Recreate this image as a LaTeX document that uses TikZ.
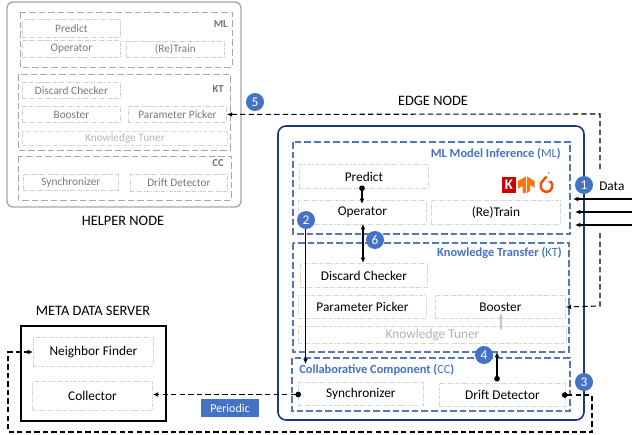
\documentclass[tikz,border=0pt]{standalone}
\usepackage{fontspec}
\setmainfont{Carlito}
\usetikzlibrary{arrows.meta,calc}
\definecolor{cblue}{HTML}{4472C4}
\definecolor{dashblue}{HTML}{5577B5}
\definecolor{edgeblue}{HTML}{1B3A7A}
\definecolor{hgray}{HTML}{A6A6A6}
\tikzset{
  px/.style={x=0.75pt,y=-0.75pt},
  zone/.style={draw=#1,line width=0.85pt,dash pattern=on 5pt off 2.2pt},
  hzone/.style={draw=hgray,line width=0.7pt,dash pattern=on 5pt off 2.2pt},
  inner/.style={draw=#1,line width=0.65pt,dash pattern=on 3pt off 1pt on 0.8pt off 1pt,inner sep=0pt},
  badge/.style={circle,fill=cblue,text=white,minimum size=13.5pt,inner sep=0pt,font=\fontsize{10}{10}\selectfont},
  mainbox/.style={inner=black!17,text=black,font=\fontsize{10}{12}\selectfont},
  helpbox/.style={inner=black!20,text=black!52,font=\fontsize{8.5}{10}\selectfont},
  ttl/.style={font=\fontsize{10.8}{12}\selectfont,inner sep=0pt},
  zlabel/.style={text=cblue,font=\fontsize{9.3}{10}\selectfont,inner sep=0pt},
  hlabel/.style={text=black!55,font=\fontsize{8}{10}\selectfont\bfseries,inner sep=0pt},
  solidarrow/.style={draw=black,line width=0.85pt,-{Latex[length=4pt,width=3.6pt]}},
  bothways/.style={draw=#1,line width=0.85pt,{Latex[length=4pt,width=3.6pt]}-{Latex[length=4pt,width=3.6pt]}},
  dotarrow/.style={draw=black,line width=0.85pt,{Circle[length=4.2pt]}-{Latex[length=4pt,width=3.6pt]}},
  dasharrow/.style={draw=black,line width=0.8pt,dash pattern=on 4pt off 2.4pt,-{Latex[length=4pt,width=3.6pt]}},
  dotdasharrow/.style={draw=black,line width=0.8pt,dash pattern=on 4pt off 2.4pt,{Circle[length=4.2pt]}-{Latex[length=4pt,width=3.6pt]}},
}
% box with corners given in reference pixels: name, x1, y1, x2, y2, style, text
\newcommand{\pxbox}[7]{%
  \pgfmathsetmacro{\bw}{(#4-#2)*0.75}\pgfmathsetmacro{\bh}{(#5-#3)*0.75}%
  \node[#6,minimum width=\bw pt,minimum height=\bh pt,anchor=north west] (#1) at (#2,#3) {#7};%
}
\begin{document}
\begin{tikzpicture}[px]
\useasboundingbox (0,0) rectangle (632,435);
\fill[white] (0,0) rectangle (632,435);

% helper node
\draw[draw=hgray,line width=1pt,rounded corners=4.5pt] (7,2) rectangle (241,207);
\draw[hzone] (20,12) rectangle (232,67);
\draw[hzone] (18,74) rectangle (230,150);
\draw[hzone] (18,156) rectangle (231,200);
\node[hlabel,anchor=east] at (228,24.5) {ML};
\node[hlabel,anchor=east] at (224,89.5) {KT};
\node[hlabel,anchor=east] at (224,163.5) {CC};
\pxbox{hpredict}{22}{19}{120}{37}{helpbox}{Predict}
\pxbox{hoperator}{22}{40}{120}{57}{helpbox}{Operator}
\pxbox{htrain}{126}{41}{224}{57}{helpbox}{(Re)Train}
\pxbox{hdiscard}{22}{82}{120}{98}{helpbox}{Discard Checker}
\pxbox{hbooster}{22}{106}{120}{122}{helpbox}{Booster}
\pxbox{hpicker}{128}{106}{226}{122}{helpbox}{Parameter Picker}
\pxbox{htuner}{22}{131}{227}{145}{helpbox,text=black!28,draw=black!15}{Knowledge Tuner}
\pxbox{hsync}{23}{174}{118}{190}{helpbox}{Synchronizer}
\pxbox{hdrift}{130}{174}{227}{191}{helpbox}{Drift Detector}
\node[ttl] (helpertitle) at (123,221) {HELPER NODE};

% edge node
\draw[draw=edgeblue,line width=1.2pt,rounded corners=6pt] (278,126) rectangle (584,420);
\node[ttl] (edgetitle) at (433,101) {EDGE NODE};
\draw[zone=dashblue] (293,142) rectangle (570,234);
\draw[zone=dashblue] (293,243) rectangle (569,352);
\draw[zone=dashblue] (292,358) rectangle (570,411);
\node[zlabel,anchor=east] at (561,154) {\textbf{ML Model Inference (}ML\textbf{)}};
\node[zlabel,anchor=east] at (562,253) {\textbf{Knowledge Transfer (}KT\textbf{)}};
\node[zlabel,anchor=west] at (299,370) {\textbf{Collaborative Component (}CC\textbf{)}};
\pxbox{predict}{299}{164}{428}{188}{mainbox}{Predict}
\pxbox{operator}{298}{200}{426}{224}{mainbox}{Operator}
\pxbox{train}{431}{200}{560}{224}{mainbox}{(Re)Train}
\pxbox{discard}{300}{263}{427}{287}{mainbox}{Discard Checker}
\pxbox{picker}{298}{295}{426}{318}{mainbox}{Parameter Picker}
\pxbox{booster}{435}{295}{565}{318}{mainbox}{Booster}
\pxbox{tuner}{298}{326}{566}{343}{mainbox,text=black!30}{Knowledge Tuner}
\pxbox{sync}{298}{382}{423}{405}{mainbox}{Synchronizer}
\pxbox{drift}{439}{383}{565}{406}{mainbox}{Drift Detector}

% framework icons
\fill[red!80!black] (502,177) rectangle (515.5,193);
\node[text=white,font=\fontsize{11}{11}\selectfont\bfseries,inner sep=0pt] (keras) at (508.8,185) {K};
\fill[orange!90!red] (518,181) -- (526,176.5) -- (526,193) -- (522.5,193) -- (522.5,186) -- (518,188.5) -- cycle;
\fill[orange!90!red] (534.5,181) -- (527,176.5) -- (527,193) -- (530,191) -- (530,185) -- (534.5,187.5) -- cycle;
\draw[draw=orange!60!red,line width=1.8pt] (546.5,176.5) -- (543,180.5) .. controls (538,185.5) and (541.5,192) .. (546.5,192) .. controls (552,192) and (554,185) .. (550.5,181);
\fill[orange!60!red] (549,182) circle (1);
\fill[violet!60] (548.5,173) circle (0.9);

% meta data server
\draw[draw=black,line width=1.1pt] (21,326) rectangle (166,421);
\node[ttl] (metatitle) at (93,311) {META DATA SERVER};
\pxbox{finder}{33}{337}{153}{366}{mainbox}{Neighbor Finder}
\pxbox{collector}{32}{381}{152}{410}{mainbox}{Collector}
\node[fill=cblue,text=white,minimum width=43.5pt,minimum height=13.5pt,inner sep=0pt,font=\fontsize{9}{10}\selectfont] (periodic) at (230,408) {Periodic};

% free ends
\coordinate (in1) at (632,199);
\coordinate (in2) at (632,212);
\coordinate (in3) at (632,225);
\coordinate (out1) at (573,199);
\coordinate (out2) at (575,212);
\coordinate (out3) at (575,225);
\coordinate (hturn) at (600,114);
\coordinate (gaptop) at (600,169);
\coordinate (gapbtm) at (600,233);
\coordinate (vturn) at (600,306);
\coordinate (btm1) at (592,395);
\coordinate (btm2) at (592,432);
\coordinate (btm3) at (8,432);
\coordinate (btm4) at (8,352);
\coordinate (p1) at (362,185.5);
\coordinate (p2) at (362,204);
\coordinate (o1) at (363,224);
\coordinate (o2) at (363,263);
\coordinate (two1) at (305.5,226);
\coordinate (two2) at (305.5,364);
\coordinate (b1) at (501,313);
\coordinate (b2) at (501,331);
\coordinate (d1) at (497,381.5);
\coordinate (d2) at (497,352);
\coordinate (s1) at (301,394.5);
\coordinate (s2) at (562,395);

% connectors
\draw[solidarrow] (in1) -- (out1);
\draw[solidarrow] (in2) -- (out2);
\draw[solidarrow] (in3) -- (out3);
\draw[dotarrow] (p1) -- (p2);
\draw[bothways=black] (o1) -- (o2);
\draw[solidarrow] (two1) -- (two2);
\draw[bothways=black!22] (b1) -- (b2);
\draw[dotarrow] (d1) -- (d2);
\draw[dasharrow] (gaptop) -- (hturn) -- (hpicker.east);
\draw[dasharrow] (gapbtm) -- (vturn) -- (booster.east);
\draw[dotdasharrow] (s1) -- (collector.east |- s1);
\draw[dotdasharrow] (s2) -- (btm1) -- (btm2) -- (btm3) -- (btm4) -- (finder.west |- btm4);

% badges
\node[badge] (b5) at (255,102) {5};
\node[badge] (b1n) at (584,185) {1};
\node[badge] (b2n) at (306,220) {2};
\node[badge] (b6) at (375,240) {6};
\node[badge] (b4) at (484,355) {4};
\node[badge] (b3) at (584,382) {3};
\node[font=\fontsize{10}{12}\selectfont,anchor=west,inner sep=0pt] (data) at (599,186) {Data};
\end{tikzpicture}
\end{document}
